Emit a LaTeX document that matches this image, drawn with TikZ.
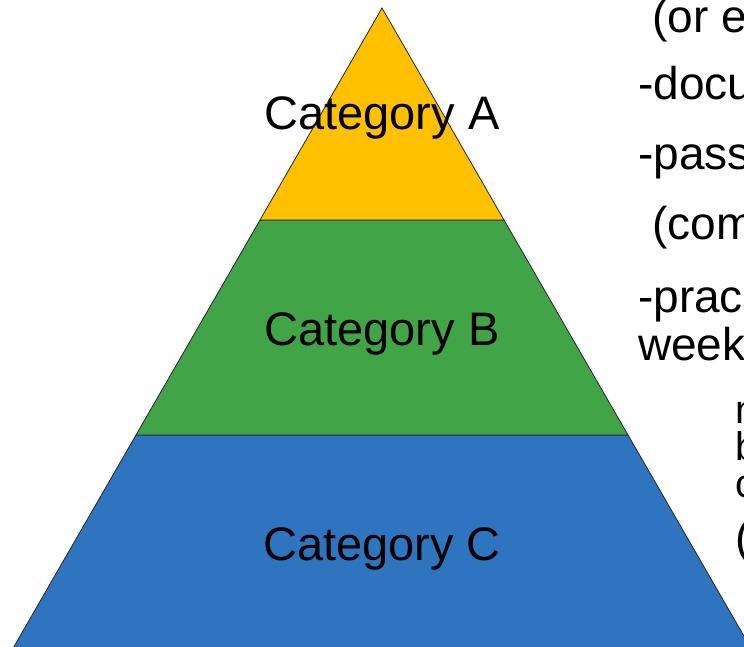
\documentclass[tikz,border=0pt]{standalone}
\usepackage{fontspec}
\setmainfont{Liberation Sans}
\usetikzlibrary{positioning}

\definecolor{levA}{HTML}{FFC000}
\definecolor{levB}{HTML}{41A548}
\definecolor{levC}{HTML}{2E74BF}

\begin{document}
\begin{tikzpicture}[x=1pt, y=-1pt,
        band/.style = {draw=black!85, line width=0.8pt, line join=miter},
        cat/.style = {anchor=base, inner sep=0pt, font=\fontsize{47}{56}\selectfont},
        note/.style = {anchor=base west, inner sep=0pt, font=\fontsize{46}{55}\selectfont},
        small/.style = {anchor=base west, inner sep=0pt, font=\fontsize{40}{48}\selectfont}
        ]
        \useasboundingbox (0,0) rectangle (744,647);
        \clip (0,0) rectangle (744,647);

        % pyramid corners
        \coordinate (top) at (382,8);
        \coordinate (abL) at (260,220);
        \coordinate (abR) at (504,220);
        \coordinate (bcL) at (136,435);
        \coordinate (bcR) at (628,435);
        \coordinate (botL) at (12,650);
        \coordinate (botR) at (752,650);

        \filldraw[band, fill=levC] (bcL) -- (bcR) -- (botR) -- (botL) -- cycle;
        \filldraw[band, fill=levB] (abL) -- (abR) -- (bcR) -- (bcL) -- cycle;
        \filldraw[band, fill=levA] (top) -- (abR) -- (abL) -- cycle;

        \node[cat] (catA) at (382,130) {Category A};
        \node[cat] (catB) at (382,345) {Category B};
        \node[cat] (catC) at (382,560) {Category C};

        % text on the right, cut by the page edge
        \node[note] (t1) at (652,33) {(or e};
        \node[note] (t2) at (638,100) {-docu};
        \node[note] (t3) at (638,170) {-pass};
        \node[note] (t4) at (652,240) {(com};
        \node[note] (t5) at (638,312) {-prac};
        \node[note] (t6) at (638,360) {week};
        \node[small] (t7) at (735,423) {n};
        \node[small] (t8) at (735,460) {b};
        \node[small] (t9) at (735,497) {c};
        \node[note] (t10) at (735,553) {(};
\end{tikzpicture}
\end{document}
